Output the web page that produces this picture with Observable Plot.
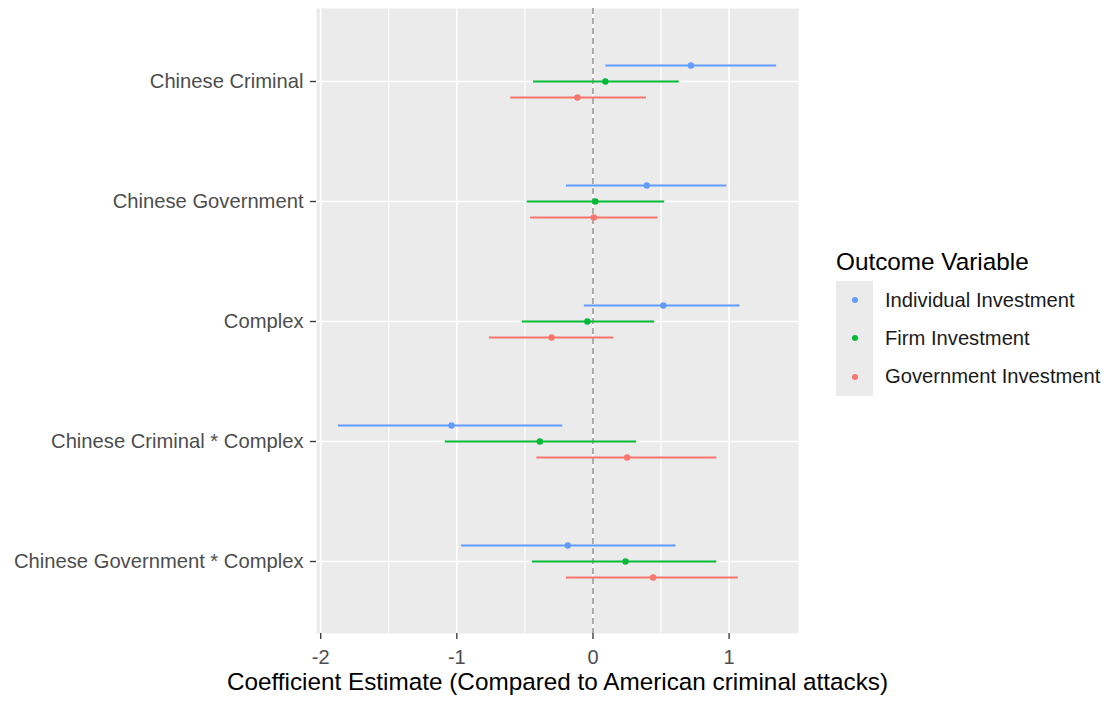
<!DOCTYPE html>
<html>
<head>
<meta charset="utf-8">
<script src="https://cdn.jsdelivr.net/npm/d3@7"></script>
<script src="https://cdn.jsdelivr.net/npm/@observablehq/plot@0.6"></script>
<style>
  html, body { margin: 0; padding: 0; background: #fff; }
  body { font-family: "Liberation Sans", Arial, sans-serif; }
  #wrap { position: relative; width: 1113px; height: 702px; overflow: hidden; }
  #legend { position: absolute; left: 836px; top: 250px; color: #000; }
  #legend .title { font-size: 24.3px; line-height: 24.3px; height: 31px; white-space: nowrap; }
  #legend .row { display: flex; align-items: center; height: 38.3px; }
  #legend .key { width: 37px; height: 38.3px; background: #EBEBEB; display: flex; align-items: center; justify-content: center; }
  #legend .dot { width: 6px; height: 6px; border-radius: 50%; }
  #legend .lab { margin-left: 12px; font-size: 20.2px; color: #1a1a1a; white-space: nowrap; }
  svg g[aria-label="x-axis tick"] path, svg g[aria-label="y-axis tick"] path { stroke: #333333; stroke-width: 1.3px; }
</style>
</head>
<body>
<div id="wrap"></div>
<script>
const terms = ["Chinese Criminal", "Chinese Government", "Complex", "Chinese Criminal * Complex", "Chinese Government * Complex"];
const outcomes = ["Individual Investment", "Firm Investment", "Government Investment"];
const colors = ["#619CFF", "#00BA38", "#F8766D"];

const indivEst = [0.720, 0.395, 0.517, -1.039, -0.185];
const indivLo  = [0.095, -0.195, -0.063, -1.870, -0.966];
const indivHi  = [1.349, 0.983, 1.080, -0.222, 0.610];

const firmEst = [0.091, 0.017, -0.041, -0.390, 0.239];
const firmLo  = [-0.436, -0.483, -0.519, -1.085, -0.446];
const firmHi  = [0.634, 0.527, 0.454, 0.322, 0.910];

const govEst = [-0.114, 0.007, -0.304, 0.251, 0.442];
const govLo  = [-0.604, -0.458, -0.761, -0.412, -0.195];
const govHi  = [0.393, 0.478, 0.154, 0.910, 1.068];

const xMajor = [-2, -1, 0, 1];
const xMinor = [-1.5, -0.5, 0.5];
const xTitle = "Coefficient Estimate (Compared to American criminal attacks)";
const legendTitle = "Outcome Variable";

const seriesEst = [indivEst, firmEst, govEst];
const seriesLo = [indivLo, firmLo, govLo];
const seriesHi = [indivHi, firmHi, govHi];

const rows = [];
outcomes.forEach((o, k) => {
  terms.forEach((t, i) => {
    rows.push({term: t, outcome: o, est: seriesEst[k][i], lo: seriesLo[k][i], hi: seriesHi[k][i]});
  });
});

const lo = d3.min(rows, d => d.lo), hi = d3.max(rows, d => d.hi);
const pad = 0.05 * (hi - lo);

const W = 1113, H = 702, mt = 8, mb = 69, ml = 316, mr = 315;
const yPad = 0.6;
const step = (H - mt - mb) / (terms.length - 1 + 2 * yPad);
const dodge = step * 0.4 / 3;

const marks = [
  Plot.frame({fill: "#EBEBEB", stroke: null}),
  Plot.ruleX(xMinor, {stroke: "#fff", strokeWidth: 1.2}),
  Plot.ruleX(xMajor, {stroke: "#fff", strokeWidth: 1.7}),
  Plot.ruleY(terms, {y: d => d, stroke: "#fff", strokeWidth: 1.7}),
  Plot.ruleX([0], {stroke: "#8C8C8C", strokeWidth: 1.4, strokeDasharray: "6,4"})
];
outcomes.forEach((o, k) => {
  const data = rows.filter(d => d.outcome === o);
  const dy = (k - 1) * dodge;
  marks.push(Plot.ruleY(data, {y: "term", x1: "lo", x2: "hi", dy, stroke: colors[k], strokeWidth: 1.9}));
  marks.push(Plot.dot(data, {y: "term", x: "est", dy, r: 3.2, fill: colors[k], stroke: null}));
});
marks.push(Plot.axisX(xMajor, {tickSize: 6, tickPadding: 10.5, fontSize: 20, fill: "#4D4D4D", label: null, tickFormat: d => String(d)}));
marks.push(Plot.axisY({tickSize: 6, tickPadding: 7, fontSize: 20.2, fill: "#4D4D4D", label: null}));
marks.push(Plot.text([xTitle], {frameAnchor: "bottom", lineAnchor: "middle", dy: 49.2, fontSize: 24.3, fill: "#000"}));

const chart = Plot.plot({
  width: W, height: H,
  marginLeft: ml, marginRight: mr, marginTop: mt, marginBottom: mb,
  style: {fontFamily: "'Liberation Sans', Arial, sans-serif", background: "#fff", overflow: "visible"},
  x: {domain: [lo - pad, hi + pad]},
  y: {type: "point", domain: terms, padding: yPad},
  marks
});

const wrap = document.getElementById("wrap");
wrap.appendChild(chart);

const legend = document.createElement("div");
legend.id = "legend";
const title = document.createElement("div");
title.className = "title";
title.textContent = legendTitle;
legend.appendChild(title);
outcomes.forEach((o, k) => {
  const row = document.createElement("div");
  row.className = "row";
  const key = document.createElement("div");
  key.className = "key";
  const dot = document.createElement("div");
  dot.className = "dot";
  dot.style.background = colors[k];
  key.appendChild(dot);
  const lab = document.createElement("div");
  lab.className = "lab";
  lab.textContent = o;
  row.appendChild(key);
  row.appendChild(lab);
  legend.appendChild(row);
});
wrap.appendChild(legend);
</script>
</body>
</html>
